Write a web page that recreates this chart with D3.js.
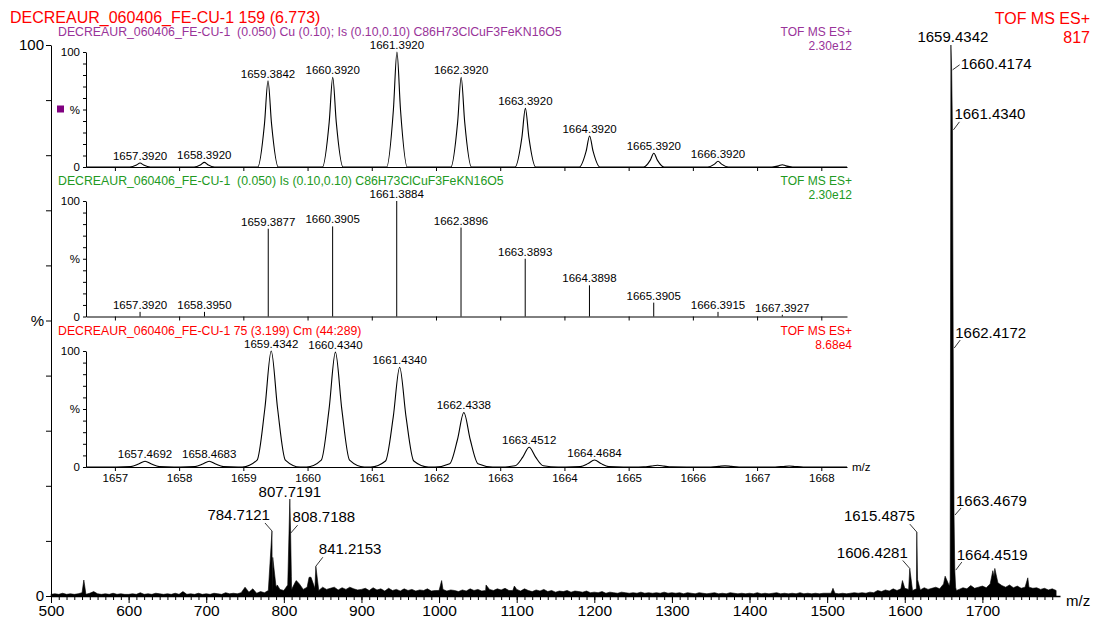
<!DOCTYPE html>
<html>
<head>
<meta charset="utf-8">
<script src="https://cdn.jsdelivr.net/npm/d3@7"></script>
<style>
body { margin: 0; background: #fff; }
text { font-family: "Liberation Sans", Arial, sans-serif; white-space: pre; }
</style>
</head>
<body>
<script>

// ---- main spectrum data ----
var mainTitle = 'DECREAUR_060406_FE-CU-1 159 (6.773)';
var mainMode = 'TOF MS ES+';
var mainScaleTxt = '817';
var mainTicks = [500, 600, 700, 800, 900, 1000, 1100, 1200, 1300, 1400, 1500, 1600, 1700];

// background noise, one value every 5 m/z from 500 (null = inside isotope cluster)
var noiseLevels = [
	0.3,0.4,0.3,0.5,0.3,0.4,0.3,0.4,0.6,0.3,0.5,0.8,0.4,0.3,0.4,0.3,0.5,0.3,0.4,0.3,
	0.3,0.4,0.3,0.6,0.3,0.4,0.3,0.5,0.4,0.3,0.4,0.3,0.5,0.3,0.8,0.3,0.4,0.3,0.5,0.3,
	0.4,0.3,0.5,0.4,0.3,0.6,0.4,0.5,0.4,0.6,1.6,0.7,1.3,0.5,0.8,0.6,1.0,0.7,1.6,1.2,
	1.0,2.0,1.2,2.6,2.2,1.2,1.6,3.4,1.4,1.0,1.6,1.2,1.4,1.6,1.1,1.5,1.2,1.6,1.3,1.1,
	1.2,1.4,1.0,1.5,1.1,1.3,0.9,1.4,1.0,1.2,0.9,1.3,1.0,1.2,0.9,1.1,1.0,1.3,0.9,1.0,
	1.0,1.2,0.9,1.1,1.0,0.8,1.1,0.9,1.3,1.0,1.2,0.9,1.0,1.2,1.0,1.3,1.1,1.4,1.0,1.0,
	1.2,0.9,1.3,1.0,0.8,1.1,0.9,1.2,0.8,1.0,0.7,0.9,0.8,1.0,0.7,0.9,0.8,0.7,0.9,0.6,
	0.7,0.6,0.8,0.5,0.7,0.6,0.5,0.7,0.6,0.5,0.6,0.5,0.7,0.5,0.6,0.5,0.6,0.5,0.7,0.5,
	0.6,0.5,0.6,0.4,0.6,0.5,0.4,0.6,0.5,0.4,0.5,0.6,0.4,0.5,0.4,0.6,0.5,0.4,0.5,0.4,
	0.5,0.4,0.6,0.4,0.5,0.4,0.5,0.6,0.4,0.5,0.4,0.5,0.4,0.6,0.4,0.5,0.4,0.5,0.4,0.5,
	0.5,0.5,0.5,0.4,0.5,0.4,0.5,0.6,0.5,0.6,0.5,0.7,0.6,1.0,0.8,1.1,0.9,1.3,1.0,1.3,
	1.4,1.2,1.0,1.3,1.1,1.5,1.2,1.4,1.6,1.3,2.2,null,null,null,1.2,1.5,1.3,1.9,1.4,1.6,
	1.8,1.5,2.2,3.5,2.4,1.9,1.6,2.0,1.5,1.8,1.4,1.6,1.6,1.4,1.5,1.2,1.4,1.1,1.3,1.0
];

// distinct peaks [m/z, %]
var mainPeaks = [
	[542.3, 2.9], [784.7121, 11.8], [785.7, 7.0], [791.5, 2.0], [807.7191, 17.6],
	[808.7188, 11.4], [809.7, 3.5], [816, 2.8], [832.5, 3.4], [841.2153, 5.4],
	[1003.3, 2.8], [1060.5, 2.0], [1097, 1.8], [1507.5, 1.4], [1597, 2.8],
	[1606.4281, 5.0], [1615.4875, 11.6], [1616.5, 3.0], [1652, 3.6], [1657.5, 1.8],
	[1658.5, 3.0], [1659.4342, 100], [1660.4174, 95.5], [1661.4340, 84.6],
	[1662.4172, 45], [1663.4679, 14.7], [1664.4519, 4.7], [1665.5, 1.6],
	[1666.5, 1.0], [1713.5, 4.6], [1716, 5.0], [1758.5, 3.3]
];

var mainLabels = ['1659.4342', '1660.4174', '1661.4340', '1662.4172', '1663.4679', '1664.4519',
	'1615.4875', '1606.4281', '784.7121', '807.7191', '808.7188', '841.2153'];

// ---- inset data ----
var simTitle = 'DECREAUR_060406_FE-CU-1  (0.050) Cu (0.10); Is (0.10,0.10) C86H73ClCuF3FeKN16O5';
var simScaleTxt = '2.30e12';
var simMz  = [1657.392, 1658.392, 1659.3842, 1660.392, 1661.392, 1662.392, 1663.392, 1664.392, 1665.392, 1666.392, 1667.392];
var simPct = [3.5, 4, 75, 78, 100, 78, 51, 27, 12, 5, 2];
var simLabelCount = 10;

var isoTitle = 'DECREAUR_060406_FE-CU-1  (0.050) Is (0.10,0.10) C86H73ClCuF3FeKN16O5';
var isoScaleTxt = '2.30e12';
var isoMz  = [1657.392, 1658.395, 1659.3877, 1660.3905, 1661.3884, 1662.3896, 1663.3893, 1664.3898, 1665.3905, 1666.3915, 1667.3927];
var isoPct = [4, 4, 76, 78, 100, 77, 50, 27, 12, 4, 1.5];
var isoLabelCount = 11;

var measTitle = 'DECREAUR_060406_FE-CU-1 75 (3.199) Cm (44:289)';
var measScaleTxt = '8.68e4';
var measMz  = [1657.4692, 1658.4683, 1659.4342, 1660.4340, 1661.4340, 1662.4338, 1663.4512, 1664.4684, 1665.45, 1666.5, 1667.5];
var measPct = [5, 5, 100, 99, 86, 47, 17, 6, 1.5, 1, 0.8];
var measLabelCount = 8;
var insetTicks = [1657, 1658, 1659, 1660, 1661, 1662, 1663, 1664, 1665, 1666, 1667, 1668];

// ---- styles / layout ----
var RED = '#ff0000', PURPLE = '#993399', GREEN = '#229922';
var FONT = '"Liberation Sans", Arial, sans-serif';
var fmt4 = d3.format('.4f');

var svg = d3.select('body').append('svg')
	.attr('width', 1098)
	.attr('height', 621);

var xMain = d3.scaleLinear().domain([500, 1800]).range([51, 1060]);
var yMain = d3.scaleLinear().domain([0, 100]).range([596, 45]);

function pctFormat(d) {
	return d === 100 ? '100' : d === 50 ? '%' : d === 0 ? '0' : '';
}

function styleAxis(g, size) {
	g.attr('font-family', FONT).attr('font-size', size);
	g.selectAll('text').attr('fill', '#000');
	g.selectAll('line').attr('stroke', '#000');
	g.select('.domain').attr('stroke', '#000');
}

// MAIN SPECTRUM
var pts = noiseLevels.map(function(v, i){ return [500 + i * 5, v]; })
	.filter(function(d){ return d[1] !== null; })
	.concat(mainPeaks)
	.sort(function(a, b){ return a[0] - b[0]; });

svg.append('path')
	.datum(pts)
	.attr('d', d3.area()
		.x(function(d){ return xMain(d[0]); })
		.y0(yMain(0))
		.y1(function(d){ return yMain(d[1]); }))
	.attr('fill', '#000')
	.attr('stroke', '#000')
	.attr('stroke-width', 0.6);

// main axes
var gxMinor = svg.append('g').attr('transform', 'translate(0,' + yMain(0) + ')')
	.call(d3.axisBottom(xMain).tickValues(d3.range(500, 1800, 10)).tickSize(4).tickSizeOuter(0).tickFormat(''));
styleAxis(gxMinor, 15);
gxMinor.select('.domain').attr('stroke-width', 1.5);

var gxMajor = svg.append('g').attr('transform', 'translate(0,' + yMain(0) + ')')
	.call(d3.axisBottom(xMain).tickValues(mainTicks).tickSize(7).tickSizeOuter(0).tickPadding(2).tickFormat(d3.format('d')));
styleAxis(gxMajor, 15.5);
gxMajor.select('.domain').remove();

var gy = svg.append('g').attr('transform', 'translate(' + xMain(500) + ',0)')
	.call(d3.axisLeft(yMain).tickValues(d3.range(0, 101, 10)).tickSize(5).tickSizeOuter(0).tickPadding(2).tickFormat(pctFormat));
styleAxis(gy, 15);

svg.append('text').attr('x', 1066).attr('y', 606).attr('font-size', 15).text('m/z');

// main peak labels
var labelPlace = {
	'1659.4342': { dx: 2, dy: -3, anchor: 'middle' },
	'1660.4174': { dx: 9, dy: -1, anchor: 'start', lead: [1, 0, 8, -5] },
	'1661.4340': { dx: 2, dy: -11, anchor: 'start', lead: [1, 0, 7, -8] },
	'1662.4172': { dx: 2, dy: -10, anchor: 'start', lead: [1, 0, 7, -8] },
	'1663.4679': { dx: 2, dy: -9, anchor: 'start', lead: [1, 0, 7, -7] },
	'1664.4519': { dx: 2, dy: -10, anchor: 'start', lead: [1, 0, 7, -8] },
	'1615.4875': { dx: -2, dy: -11, anchor: 'end', lead: [0, 0, -7, -8] },
	'1606.4281': { dx: -2, dy: -10, anchor: 'end', lead: [0, 0, -7, -8] },
	'784.7121': { dx: -2, dy: -11, anchor: 'end', lead: [0, 0, -7, -8] },
	'807.7191': { dx: 0, dy: -2, anchor: 'middle' },
	'808.7188': { dx: 2, dy: -11, anchor: 'start', lead: [0, 0, 7, -8] },
	'841.2153': { dx: 3, dy: -12, anchor: 'start', lead: [0, 0, 7, -9] }
};

mainLabels.forEach(function(t){
	var mz = +t;
	var pk = mainPeaks.filter(function(p){ return Math.abs(p[0] - mz) < 1e-6; })[0];
	var px = xMain(pk[0]), py = yMain(pk[1]);
	var pl = labelPlace[t];
	if (pl.lead) {
		svg.append('line')
			.attr('x1', px + pl.lead[0]).attr('y1', py + pl.lead[1])
			.attr('x2', px + pl.lead[2]).attr('y2', py + pl.lead[3])
			.attr('stroke', '#000').attr('stroke-width', 0.8);
	}
	svg.append('text')
		.attr('x', px + pl.dx).attr('y', py + pl.dy)
		.attr('text-anchor', pl.anchor)
		.attr('font-size', 15)
		.text(t);
});

// headers
svg.append('text').attr('x', 10).attr('y', 23).attr('font-size', 16).attr('fill', RED).text(mainTitle);
svg.append('text').attr('x', 1090).attr('y', 24).attr('font-size', 16).attr('fill', RED).attr('text-anchor', 'end').text(mainMode);
svg.append('text').attr('x', 1090).attr('y', 43).attr('font-size', 16).attr('fill', RED).attr('text-anchor', 'end').text(mainScaleTxt);

// INSETS
var xIn = d3.scaleLinear().domain([1656.55, 1668.4]).range([86, 847]);

function drawInset(o) {
	var y = d3.scaleLinear().domain([0, 100]).range([o.base, o.top]);
	var g = svg.append('g');

	var ga = g.append('g').attr('transform', 'translate(' + xIn.range()[0] + ',0)')
		.call(d3.axisLeft(y).tickValues(d3.range(0, 101, 10)).tickSize(3).tickSizeOuter(0).tickPadding(3).tickFormat(pctFormat));
	styleAxis(ga, 11.5);

	var gb = g.append('g').attr('transform', 'translate(0,' + o.base + ')')
		.call(d3.axisBottom(xIn).tickValues(insetTicks).tickSize(4).tickSizeOuter(0).tickPadding(3)
			.tickFormat(o.tickLabels ? d3.format('d') : ''));
	styleAxis(gb, 11.5);

	if (o.kind === 'stick') {
		g.selectAll('line.stick').data(o.mz).enter().append('line')
			.attr('class', 'stick')
			.attr('x1', function(d){ return xIn(d); })
			.attr('x2', function(d){ return xIn(d); })
			.attr('y1', y(0))
			.attr('y2', function(d, i){ return y(o.pct[i]); })
			.attr('stroke', '#000').attr('stroke-width', 1);
	} else {
		var line = [[xIn.domain()[0], 0]];
		o.mz.forEach(function(m, i){
			o.glyph.forEach(function(s){ line.push([m + s[0], o.pct[i] * s[1]]); });
		});
		line.push([xIn.domain()[1], 0]);
		g.append('path')
			.datum(line)
			.attr('d', d3.line()
				.x(function(d){ return xIn(d[0]); })
				.y(function(d){ return y(d[1]); })
				.curve(d3.curveMonotoneX))
			.attr('fill', 'none')
			.attr('stroke', '#000').attr('stroke-width', 1.1);
	}

	// peak labels
	g.selectAll('text.pk').data(o.mz.slice(0, o.labelCount)).enter().append('text')
		.attr('class', 'pk')
		.attr('x', function(d){ return xIn(d); })
		.attr('y', function(d, i){ return y(o.pct[i]) - 3; })
		.attr('text-anchor', 'middle')
		.attr('font-size', 11.5)
		.text(function(d){ return fmt4(d); });

	// title and mode text
	g.append('text').attr('x', 58).attr('y', o.top - 16).attr('font-size', 12.3).attr('fill', o.color).text(o.title);
	g.append('text').attr('x', 852).attr('y', o.top - 16).attr('font-size', 12).attr('fill', o.color)
		.attr('text-anchor', 'end').text('TOF MS ES+');
	g.append('text').attr('x', 852).attr('y', o.top - 2).attr('font-size', 12).attr('fill', o.color)
		.attr('text-anchor', 'end').text(o.scaleTxt);
	if (o.tickLabels) {
		g.append('text').attr('x', 852).attr('y', o.base + 4).attr('font-size', 11.5).text('m/z');
	}
	return y;
}

var ySim = drawInset({
	top: 52, base: 167, kind: 'profile', color: PURPLE, title: simTitle, scaleTxt: simScaleTxt,
	mz: simMz, pct: simPct, labelCount: simLabelCount, tickLabels: false,
	glyph: [[-0.16, 0], [-0.055, 0.5], [0, 1], [0.055, 0.5], [0.16, 0]]
});
svg.append('rect').attr('x', 57).attr('y', ySim(50) - 4).attr('width', 7).attr('height', 7).attr('fill', '#800080');

drawInset({
	top: 201, base: 316.5, kind: 'stick', color: GREEN, title: isoTitle, scaleTxt: isoScaleTxt,
	mz: isoMz, pct: isoPct, labelCount: isoLabelCount, tickLabels: false
});

drawInset({
	top: 351, base: 467, kind: 'profile', color: RED, title: measTitle, scaleTxt: measScaleTxt,
	mz: measMz, pct: measPct, labelCount: measLabelCount, tickLabels: true,
	glyph: [[-0.45, 0], [-0.22, 0.06], [-0.1, 0.5], [0, 1], [0.1, 0.5], [0.22, 0.06], [0.45, 0]]
});

</script>
</body>
</html>
